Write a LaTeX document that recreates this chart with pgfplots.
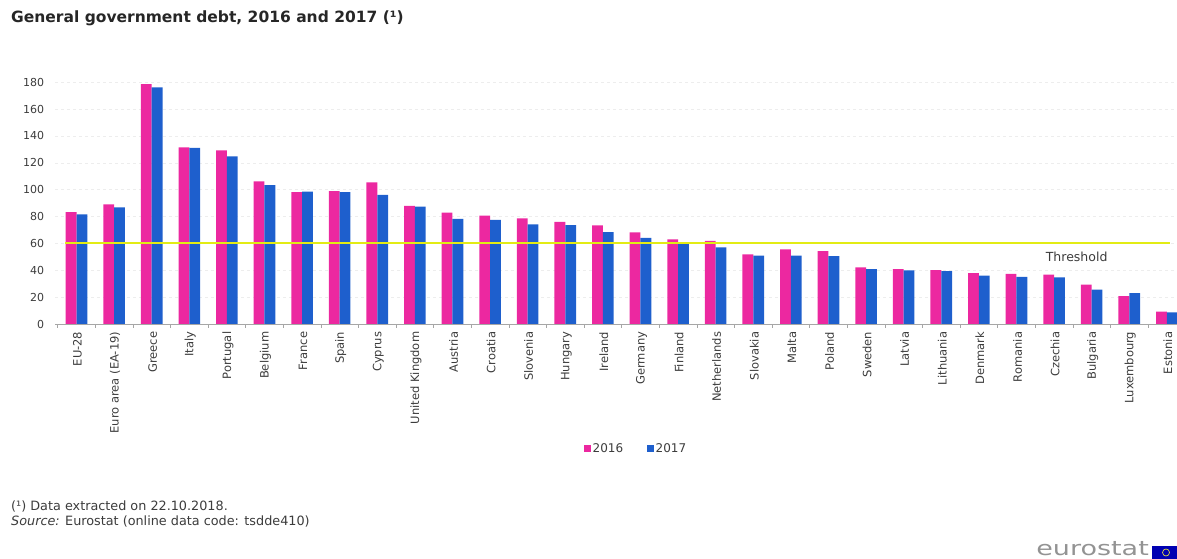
\documentclass[border=0pt]{standalone}
\usepackage{pgfplots}
\pgfplotsset{compat=1.18}
\usepackage{fontspec}
\setmainfont{DejaVu Sans}
\usepackage{graphicx}

\definecolor{pinkA}{RGB}{236,40,160}
\definecolor{blueB}{RGB}{30,95,205}
\definecolor{thr}{RGB}{226,236,20}
\definecolor{txt}{RGB}{60,60,60}

\pgfplotstableread{
x country y2016 y2017
0  {EU-28}              83.3  81.6
1  {Euro area (EA-19)}  89.0  86.8
2  {Greece}             178.5 176.1
3  {Italy}              131.4 131.2
4  {Portugal}           129.2 124.8
5  {Belgium}            106.1 103.4
6  {France}             98.2  98.5
7  {Spain}              99.0  98.1
8  {Cyprus}             105.5 96.1
9  {United Kingdom}     87.9  87.4
10 {Austria}            83.0  78.3
11 {Croatia}            80.6  77.5
12 {Slovenia}           78.7  74.1
13 {Hungary}            76.0  73.6
14 {Ireland}            73.5  68.4
15 {Germany}            68.2  64.1
16 {Finland}            63.0  59.8
17 {Netherlands}        61.9  57.0
18 {Slovakia}           51.8  50.9
19 {Malta}              55.5  50.9
20 {Poland}             54.2  50.6
21 {Sweden}             42.2  40.8
22 {Latvia}             40.9  40.0
23 {Lithuania}          40.1  39.4
24 {Denmark}            37.9  36.1
25 {Romania}            37.3  35.1
26 {Czechia}            36.8  34.7
27 {Bulgaria}           29.3  25.6
28 {Luxembourg}         20.8  23.0
29 {Estonia}            9.2   8.7
}\debt

\begin{document}
\begin{tikzpicture}[x=1pt,y=1pt]
\useasboundingbox (0,0) rectangle (1177,559);

% title
\node[anchor=west, inner sep=0pt, text=black!85,
      font=\bfseries\fontsize{15.5}{18}\selectfont] at (11,541)
  {General government debt, 2016 and 2017 (¹)};

\begin{axis}[
    at={(55pt,235pt)}, anchor=south west,
    scale only axis, width=1122pt, height=248.5pt,
    xmin=-0.572, xmax=29.27,
    ymin=0, ymax=185,
    bar width=10.8pt,
    axis lines*=left,
    x axis line style={draw=gray!70, line width=0.6pt},
    y axis line style={draw=none},
    xtick=data,
    xticklabels from table={\debt}{country},
    major x tick style={draw=none},
    major y tick style={draw=none},
    minor xtick={-0.5,0.5,...,29.5},
    minor x tick style={draw=gray!70, line width=0.6pt},
    minor tick length=4pt,
    tick align=outside,
    xticklabel style={rotate=90, anchor=east, font=\fontsize{11.5}{13}\selectfont, text=txt, yshift=-1pt},
    ytick={0,20,...,180},
    yticklabel style={font=\fontsize{11}{13}\selectfont, text=txt, xshift=-3pt},
    ymajorgrids,
    grid style={draw=gray!14, dashed},
    /pgf/number format/assume math mode=true,
    legend columns=2,
    legend style={draw=none, fill=none, at={(0.518,-0.503)}, anchor=center,
                  font=\fontsize{12}{14}\selectfont, text=txt,
                  /tikz/every even column/.append style={column sep=22pt}},
    legend image code/.code={\fill[#1,draw=none] (0pt,-3pt) rectangle (6.5pt,3.5pt);},
]
\addplot[ybar, bar shift=-5.4pt, fill=pinkA, draw=none] table[x=x, y=y2016] {\debt};
\addplot[ybar, bar shift=5.4pt, fill=blueB, draw=none] table[x=x, y=y2017] {\debt};
\addplot[draw=thr, line width=2pt, mark=none, forget plot] coordinates {(-0.3,60) (29.08,60)};
\node[font=\fontsize{12.5}{14}\selectfont, text=txt] at (axis cs:26.6,49.9) {Threshold};
\legend{2016, 2017}
\end{axis}

% footnotes
\node[anchor=west, inner sep=0pt, font=\fontsize{12.8}{15}\selectfont, text=txt] at (11,53)
  {(¹) Data extracted on 22.10.2018.};
\node[anchor=west, inner sep=0pt, font=\fontsize{12.8}{15}\selectfont, text=txt] at (11,38)
  {\textit{Source:} Eurostat (online data code: tsdde410)};

% eurostat logo
\node[anchor=base east, inner sep=0pt, text=gray!85, font=\fontsize{20}{24}\selectfont] at (1149,3)
  {\scalebox{1.35}[1]{eurostat}};
\fill[blue!70!black] (1152,0) rectangle (1180,13);
\draw[yellow!80, line width=0.6pt] (1166,6.5) circle (3.5);
\end{tikzpicture}
\end{document}
